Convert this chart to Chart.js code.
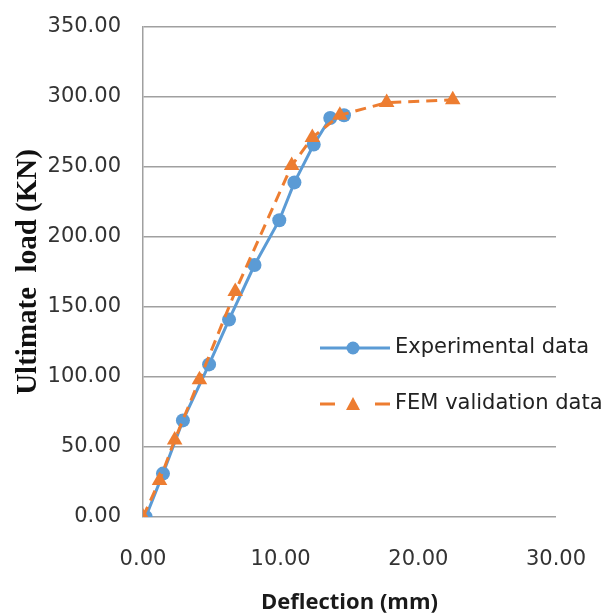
<!DOCTYPE html>
<html>
<head>
<meta charset="utf-8">
<script src="https://cdn.jsdelivr.net/npm/chart.js@4.4.0/dist/chart.umd.min.js"></script>
<style>
  html, body { margin: 0; padding: 0; background: #fff; }
  canvas { display: block; }
</style>
</head>
<body>
<canvas id="loadChart" width="611" height="616"></canvas>
<script>
// load vs deflection, test against FE model
const expDeflection = [0.2, 1.45, 2.9, 4.8, 6.25, 8.1, 9.9, 11.0, 12.4, 13.6, 14.6];
const expLoad       = [0, 31, 69, 109, 141, 180, 212, 239, 266, 285, 287];

const femDeflection = [0, 1.2, 2.3, 4.1, 6.7, 10.8, 12.3, 14.3, 17.7, 22.5];
const femLoad       = [0, 26, 55, 98, 161, 251, 271, 287, 296, 298];

const seriesNames = ['Experimental data', 'FEM validation data'];
const xTicks = [0, 10, 20, 30];
const yTicks = [0, 50, 100, 150, 200, 250, 300, 350];

const blue = '#5b9bd5';
const orange = '#ed7d31';
const gridGrey = '#a0a0a0';
const tickFont = { family: 'DejaVu Sans', size: 21 };

const toPoints = (xs, ys) => xs.map((x, i) => ({ x: x, y: ys[i] }));

// legend sits inside the plot, to the right
const legendInside = {
  id: 'legendInside',
  afterDraw(chart) {
    const ctx = chart.ctx;
    const rows = [
      { y: 348, color: blue, segs: [[320, 390]], style: 'circle' },
      { y: 404, color: orange, segs: [[320, 335], [375, 390]], style: 'triangle' }
    ];
    ctx.save();
    rows.forEach((row, i) => {
      ctx.strokeStyle = row.color;
      ctx.lineWidth = 3;
      ctx.beginPath();
      row.segs.forEach(([a, b]) => {
        ctx.moveTo(a, row.y);
        ctx.lineTo(b, row.y);
      });
      ctx.stroke();
      ctx.fillStyle = row.color;
      ctx.beginPath();
      if (row.style === 'circle') {
        ctx.arc(353, row.y, 6.5, 0, Math.PI * 2);
      } else {
        ctx.moveTo(353, row.y - 7);
        ctx.lineTo(360, row.y + 6);
        ctx.lineTo(346, row.y + 6);
        ctx.closePath();
      }
      ctx.fill();
      ctx.fillStyle = '#222';
      ctx.font = '21px "DejaVu Sans"';
      ctx.textBaseline = 'middle';
      ctx.textAlign = 'left';
      ctx.fillText(seriesNames[i], 395, row.y);
    });
    ctx.restore();
  }
};

new Chart(document.getElementById('loadChart').getContext('2d'), {
  type: 'scatter',
  data: {
    datasets: [{
      label: seriesNames[0],
      data: toPoints(expDeflection, expLoad),
      showLine: true,
      borderColor: blue,
      backgroundColor: blue,
      borderWidth: 3,
      pointStyle: 'circle',
      pointRadius: 7,
      pointBorderWidth: 0,
      tension: 0,
      order: 1
    }, {
      label: seriesNames[1],
      data: toPoints(femDeflection, femLoad),
      showLine: true,
      borderColor: orange,
      backgroundColor: orange,
      borderWidth: 3,
      borderDash: [11, 7],
      pointStyle: 'triangle',
      pointRadius: 9,
      pointBorderWidth: 0,
      tension: 0,
      order: 0
    }]
  },
  options: {
    responsive: false,
    animation: false,
    layout: { padding: { top: 27, right: 55, left: 0, bottom: 0 } },
    plugins: {
      legend: { display: false },
      tooltip: { enabled: false }
    },
    scales: {
      x: {
        type: 'linear',
        min: 0,
        max: 30,
        afterBuildTicks: (scale) => { scale.ticks = xTicks.map(v => ({ value: v })); },
        afterFit: (scale) => {
          scale.height = 99;
          scale.paddingLeft = 0;
          scale.paddingRight = 0;
        },
        grid: { display: false },
        border: { display: false },
        ticks: {
          padding: 22,
          color: '#333',
          font: tickFont,
          callback: (v) => Number(v).toFixed(2)
        },
        title: {
          display: true,
          text: 'Deflection (mm)',
          color: '#1a1a1a',
          font: { family: 'Open Sans', size: 22, weight: 'bold' },
          padding: { top: 0, bottom: 0 }
        }
      },
      y: {
        min: 0,
        max: 350,
        afterBuildTicks: (scale) => { scale.ticks = yTicks.map(v => ({ value: v })); },
        afterFit: (scale) => {
          scale.width = 143;
          scale.paddingTop = 0;
          scale.paddingBottom = 0;
        },
        grid: { color: gridGrey, lineWidth: 1.5, drawTicks: false },
        border: { display: true, color: gridGrey, width: 1.5 },
        ticks: {
          padding: 22,
          color: '#333',
          font: tickFont,
          callback: (v) => Number(v).toFixed(2)
        },
        title: {
          display: true,
          text: 'Ultimate  load (KN)',
          color: '#111',
          font: { family: 'Liberation Serif', size: 29, weight: 'bold' },
          padding: { top: 11, bottom: 0 }
        }
      }
    }
  },
  plugins: [legendInside]
});
</script>
</body>
</html>
